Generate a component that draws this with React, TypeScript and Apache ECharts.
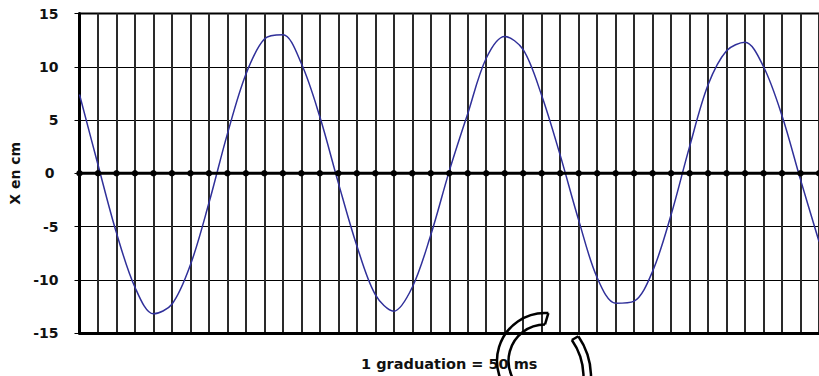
import React, { useEffect, useRef } from "react";
import * as echarts from "echarts";

// graduations (1 graduation = 50 ms)
const graduations: number[] = [
  0, 1, 2, 3, 4, 5, 6, 7, 8, 9, 10, 11, 12, 13, 14, 15, 16, 17, 18, 19, 20,
  21, 22, 23, 24, 25, 26, 27, 28, 29, 30, 31, 32, 33, 34, 35, 36, 37, 38, 39, 40,
];
// X en cm, read at each graduation
const positionCm: number[] = [
  7.4, 0.8, -5.6, -10.7, -13.2, -12.3, -8.6, -2.8, 3.7, 9.3, 12.6, 13.0, 10.3,
  5.3, -0.9, -6.8, -11.4, -12.95, -10.7, -5.8, 0.2, 5.6, 10.8, 12.85, 11.6, 7.3,
  1.7, -4.4, -9.8, -12.2, -12.0, -9.2, -3.9, 2.5, 8.3, 11.5, 12.3, 10.0, 5.4,
  -0.6, -6.4,
];
const zeroLine: number[] = graduations.map(() => 0);
const yTicks = { min: -15, max: 15, interval: 5 };
const xLabel = "1 graduation = 50 ms";
const yLabel = "X en cm";

const FONT = "DejaVu Sans";

export default function App() {
  const ref = useRef<HTMLDivElement>(null);
  useEffect(() => {
    if (!ref.current) return;
    const chart = echarts.init(ref.current, null, { renderer: "svg" });

    const deg = (d: number) => (d * Math.PI) / 180;
    const pt = (cx: number, cy: number, r: number, a: number) => [
      cx + r * Math.cos(deg(a)),
      cy + r * Math.sin(deg(a)),
    ];
    const stroke = { stroke: "#000", lineWidth: 2.5, fill: "none" };
    // overlay decoration (outlined rings)
    const c1 = { cx: 545, cy: 361, ro: 48, ri: 36.5 };
    const c2 = { cx: 519, cy: 377, ro: 72, ri: 64.5 };
    const graphic = [
      {
        type: "arc",
        z: 100,
        shape: { cx: c1.cx, cy: c1.cy, r: c1.ro, startAngle: deg(-86), endAngle: deg(120), clockwise: false },
        style: stroke,
      },
      {
        type: "arc",
        z: 100,
        shape: { cx: c1.cx, cy: c1.cy, r: c1.ri, startAngle: deg(-90), endAngle: deg(120), clockwise: false },
        style: stroke,
      },
      {
        type: "line",
        z: 100,
        shape: (() => {
          const a = pt(c1.cx, c1.cy, c1.ro, -86);
          const b = pt(c1.cx, c1.cy, c1.ri, -90);
          return { x1: a[0], y1: a[1], x2: b[0], y2: b[1] };
        })(),
        style: stroke,
      },
      {
        type: "arc",
        z: 100,
        shape: { cx: c2.cx, cy: c2.cy, r: c2.ro, startAngle: deg(-34.5), endAngle: deg(30), clockwise: true },
        style: stroke,
      },
      {
        type: "arc",
        z: 100,
        shape: { cx: c2.cx, cy: c2.cy, r: c2.ri, startAngle: deg(-35), endAngle: deg(30), clockwise: true },
        style: stroke,
      },
      {
        type: "line",
        z: 100,
        shape: (() => {
          const a = pt(c2.cx, c2.cy, c2.ro, -34.5);
          const b = pt(c2.cx, c2.cy, c2.ri, -35);
          return { x1: a[0], y1: a[1], x2: b[0], y2: b[1] };
        })(),
        style: stroke,
      },
    ];

    chart.setOption({
      animation: false,
      backgroundColor: "#fff",
      grid: {
        left: 79.5,
        top: 13.5,
        width: 746.4,
        height: 321,
        show: true,
        borderColor: "#000",
        borderWidth: 2,
        backgroundColor: "transparent",
      },
      xAxis: {
        type: "value",
        min: 0,
        max: 40,
        interval: 1,
        position: "bottom",
        name: xLabel,
        nameLocation: "middle",
        nameGap: 23,
        nameTextStyle: { fontFamily: FONT, fontWeight: "bold", fontSize: 14.5, color: "#111" },
        axisLine: { show: true, onZero: false, lineStyle: { color: "#000", width: 3 } },
        axisTick: { show: false },
        axisLabel: { show: false },
        splitLine: { show: true, lineStyle: { color: "#2a2a2a", width: 2 } },
      },
      yAxis: {
        type: "value",
        min: yTicks.min,
        max: yTicks.max,
        interval: yTicks.interval,
        name: yLabel,
        nameLocation: "middle",
        nameRotate: 90,
        nameGap: 53.5,
        nameTextStyle: { fontFamily: FONT, fontWeight: "bold", fontSize: 14, color: "#111" },
        axisLine: { show: true, onZero: false, lineStyle: { color: "#000", width: 3 } },
        axisTick: { show: true, length: 5, lineStyle: { color: "#000", width: 1 } },
        axisLabel: {
          margin: 21,
          fontFamily: FONT,
          fontWeight: "bold",
          fontSize: 14,
          color: "#111",
          formatter: (v: number) => (v === 0 ? "{z|0}" : String(v)),
          rich: {
            z: { fontFamily: FONT, fontWeight: "bold", fontSize: 14, color: "#111", padding: [0, 4, 0, 0] },
          },
        },
        splitLine: { show: true, lineStyle: { color: "#000", width: 1 } },
      },
      series: [
        {
          type: "line",
          data: graduations.map((g, i) => [g, positionCm[i]]),
          smooth: 0.33,
          showSymbol: false,
          lineStyle: { color: "#30309a", width: 1.5 },
          z: 2,
        },
        {
          type: "line",
          data: graduations.map((g, i) => [g, zeroLine[i]]),
          symbol: "circle",
          symbolSize: 6.5,
          showSymbol: true,
          itemStyle: { color: "#000" },
          lineStyle: { color: "#000", width: 3 },
          z: 3,
        },
      ],
      graphic,
    });
    return () => chart.dispose();
  }, []);
  return (
    <div
      ref={ref}
      style={{ position: "fixed", left: 0, top: 0, width: 819, height: 376, background: "#fff" }}
    />
  );
}
